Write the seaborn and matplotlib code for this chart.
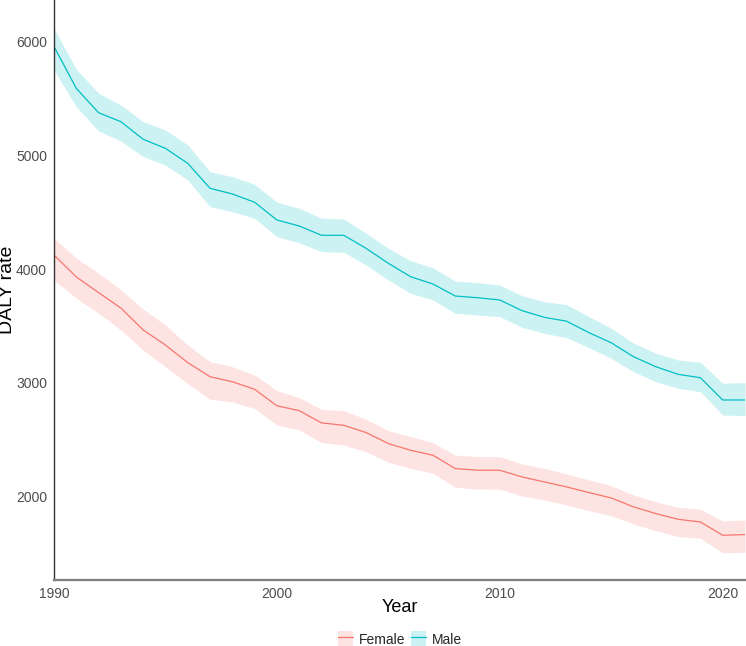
import numpy as np
import pandas as pd
import matplotlib
matplotlib.use("Agg")
import matplotlib.pyplot as plt
import seaborn as sns
from matplotlib.patches import Patch
from matplotlib.lines import Line2D

# values
years = list(range(1990, 2022))

female = [4123, 3930, 3792, 3656, 3463, 3330, 3175, 3051, 3007, 2940,
          2795, 2752, 2644, 2623, 2559, 2462, 2403, 2359, 2242, 2227,
          2227, 2168, 2124, 2080, 2030, 1983, 1904, 1845, 1795, 1771,
          1654, 1660]
female_upper = [4270, 4097, 3963, 3815, 3647, 3506, 3330, 3183, 3139, 3066,
                2928, 2868, 2764, 2752, 2676, 2576, 2523, 2470, 2361, 2347,
                2347, 2282, 2244, 2194, 2141, 2091, 2009, 1950, 1900, 1883,
                1780, 1789]
female_lower = [3903, 3744, 3610, 3463, 3286, 3139, 2990, 2852, 2830, 2771,
                2626, 2582, 2470, 2449, 2390, 2297, 2244, 2200, 2077, 2062,
                2059, 2000, 1965, 1921, 1871, 1827, 1753, 1695, 1642, 1628,
                1500, 1503]

male = [5960, 5592, 5377, 5298, 5143, 5063, 4931, 4711, 4661, 4588,
        4432, 4379, 4297, 4297, 4182, 4050, 3932, 3868, 3762, 3747,
        3727, 3633, 3574, 3540, 3439, 3350, 3227, 3139, 3072, 3042,
        2846, 2846]
male_upper = [6121, 5760, 5548, 5445, 5298, 5225, 5093, 4857, 4813, 4746,
              4588, 4535, 4447, 4441, 4315, 4182, 4073, 4011, 3894, 3879,
              3859, 3765, 3712, 3686, 3580, 3478, 3346, 3258, 3198, 3178,
              2993, 3000]
male_lower = [5753, 5430, 5216, 5128, 4990, 4916, 4784, 4549, 4505, 4447,
              4285, 4232, 4153, 4147, 4035, 3903, 3786, 3727, 3610, 3595,
              3580, 3486, 3433, 3395, 3307, 3213, 3095, 3007, 2949, 2919,
              2714, 2708]

colors = {"Female": "#F8766D", "Male": "#00BFC4"}

df = pd.DataFrame({
    "Year": years * 2,
    "rate": female + male,
    "lower": female_lower + male_lower,
    "upper": female_upper + male_upper,
    "sex": ["Female"] * len(years) + ["Male"] * len(years),
})

sns.set_style("white")
plt.rcParams["font.family"] = ["Liberation Sans", "DejaVu Sans"]

fig = plt.figure(figsize=(7.46, 6.46), dpi=100)
ax = fig.add_axes([54 / 746, 66 / 646, 691 / 746, 580 / 646])

# uncertainty bands
for sex, grp in df.groupby("sex"):
    ax.fill_between(grp["Year"], grp["lower"], grp["upper"],
                    color=colors[sex], alpha=0.2, linewidth=0)

sns.lineplot(data=df, x="Year", y="rate", hue="sex", palette=colors,
             linewidth=0.9, ax=ax, legend=False)

ax.set_xlim(1990, 2021)
ax.set_ylim(1260, 6370)
ax.set_xticks([1990, 2000, 2010, 2020])
ax.set_yticks([2000, 3000, 4000, 5000, 6000])
ax.tick_params(axis="both", labelsize=10, colors="#4D4D4D", length=3, width=0.8, pad=2)
ax.set_xlabel("Year", fontsize=13, color="black")
ax.set_ylabel("DALY rate", fontsize=14, color="black")
ax.xaxis.set_label_coords(0.5, -0.033)
ax.yaxis.set_label_coords(-0.055, 0.5)

for side in ["top", "right"]:
    ax.spines[side].set_visible(False)
ax.spines["left"].set_color("#333333")
ax.spines["left"].set_linewidth(1.0)
ax.spines["bottom"].set_color("#7F7F7F")
ax.spines["bottom"].set_linewidth(1.6)

handles = [(Patch(facecolor=colors[s], alpha=0.2, edgecolor="none"),
            Line2D([], [], color=colors[s], linewidth=0.9)) for s in ["Female", "Male"]]
fig.legend(handles, ["Female", "Male"], loc="center", bbox_to_anchor=(400 / 746, 7 / 646),
           ncol=2, frameon=False, fontsize=10, handlelength=1.1, handleheight=1.4,
           columnspacing=0.4, handletextpad=0.4, borderpad=0)

fig.savefig("out.png", dpi=100)
